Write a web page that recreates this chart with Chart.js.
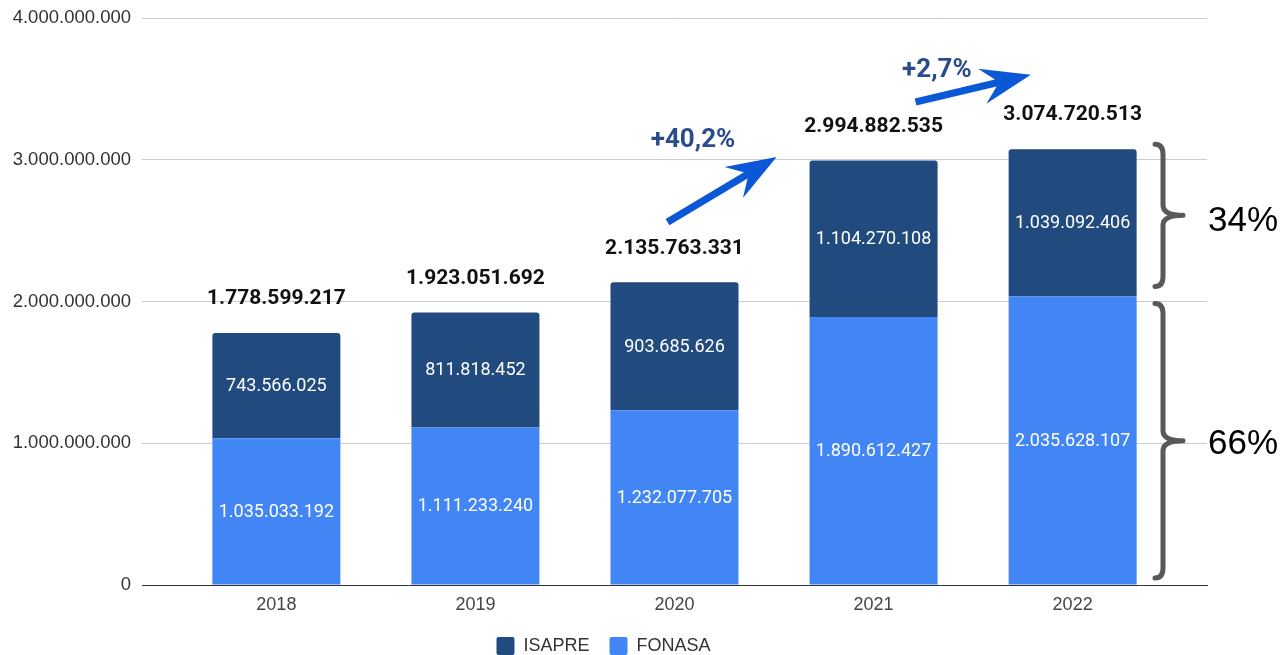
<!DOCTYPE html>
<html><head><meta charset="utf-8">
<script src="https://cdn.jsdelivr.net/npm/chart.js@4/dist/chart.umd.min.js"></script>
<style>html,body{margin:0;padding:0;background:#fff;}#wrap{width:1282px;height:655px;}</style>
</head><body><div id="wrap"><canvas id="c" width="1282" height="655"></canvas></div>
<script>
const years = ['2018', '2019', '2020', '2021', '2022'];
const isapre = [743566025, 811818452, 903685626, 1104270108, 1039092406];
const fonasa = [1035033192, 1111233240, 1232077705, 1890612427, 2035628107];
const totals = [1778599217, 1923051692, 2135763331, 2994882535, 3074720513];
const yTicks = [0, 1000000000, 2000000000, 3000000000, 4000000000];
const growthLabels = ['+40,2%', '+2,7%'];
const shareLabels = ['34%', '66%'];

const C_ISAPRE = '#214a7e';
const C_FONASA = '#4285f4';
const fmt = v => String(Math.round(v)).replace(/\B(?=(\d{3})+(?!\d))/g, '.');

function drawArrow(ctx, x1, y1, x2, y2, color) {
  const a = Math.atan2(y2 - y1, x2 - x1);
  const ux = Math.cos(a), uy = Math.sin(a), nx = -uy, ny = ux;
  const L = 50, W = 18, N = 36, S = 3.6;
  ctx.save();
  ctx.fillStyle = color;
  ctx.beginPath();
  const bx = x2 - ux * N, by = y2 - uy * N;
  ctx.moveTo(x1 + nx * S, y1 + ny * S);
  ctx.lineTo(bx + nx * S, by + ny * S);
  ctx.lineTo(x2 - ux * L + nx * W, y2 - uy * L + ny * W);
  ctx.lineTo(x2, y2);
  ctx.lineTo(x2 - ux * L - nx * W, y2 - uy * L - ny * W);
  ctx.lineTo(bx - nx * S, by - ny * S);
  ctx.lineTo(x1 - nx * S, y1 - ny * S);
  ctx.closePath();
  ctx.fill();
  ctx.restore();
}

function drawBrace(ctx, x0, x1, x2, top, bottom) {
  const mid = (top + bottom) / 2, r = 10;
  ctx.save();
  ctx.strokeStyle = '#595959';
  ctx.lineWidth = 5;
  ctx.lineCap = 'round';
  ctx.lineJoin = 'round';
  ctx.beginPath();
  ctx.moveTo(x0, top);
  ctx.quadraticCurveTo(x1, top, x1, top + r);
  ctx.lineTo(x1, mid - r);
  ctx.quadraticCurveTo(x1, mid, x2, mid);
  ctx.quadraticCurveTo(x1, mid, x1, mid + r);
  ctx.lineTo(x1, bottom - r);
  ctx.quadraticCurveTo(x1, bottom, x0, bottom);
  ctx.stroke();
  ctx.restore();
}

const annotations = {
  id: 'annotations',
  afterDatasetsDraw(chart) {
    const ctx = chart.ctx;
    const xs = chart.scales.x, ys = chart.scales.y;
    const area = chart.chartArea;
    ctx.save();
    ctx.textAlign = 'center';
    ctx.textBaseline = 'middle';
    chart.data.datasets.forEach((ds, di) => {
      const meta = chart.getDatasetMeta(di);
      ctx.font = '18px Roboto';
      ctx.fillStyle = '#ffffff';
      meta.data.forEach((bar, i) => {
        ctx.fillText(fmt(ds.data[i].y), bar.x, (bar.y + bar.base) / 2 + 1);
      });
    });
    ctx.font = 'bold 21px Roboto';
    ctx.fillStyle = '#111111';
    totals.forEach((t, i) => {
      ctx.fillText(fmt(t), xs.getPixelForValue(i), ys.getPixelForValue(t) - 34);
    });
    const arrowColor = '#0b58d6';
    drawArrow(ctx, xs.getPixelForValue(2 - 0.035), ys.getPixelForValue(2.56e9),
                   xs.getPixelForValue(3 - 0.487), ys.getPixelForValue(3.02e9), arrowColor);
    drawArrow(ctx, xs.getPixelForValue(3 + 0.211), ys.getPixelForValue(3.407e9),
                   xs.getPixelForValue(4 - 0.21), ys.getPixelForValue(3.6e9), arrowColor);
    ctx.font = 'bold 26px Roboto';
    ctx.fillStyle = '#2b4c8c';
    ctx.fillText(growthLabels[0], xs.getPixelForValue(2.093), ys.getPixelForValue(3.139e9));
    ctx.fillText(growthLabels[1], xs.getPixelForValue(3.318), ys.getPixelForValue(3.633e9));
    const yTop = ys.getPixelForValue(totals[4]);
    const yMid = ys.getPixelForValue(fonasa[4]);
    const yZero = ys.getPixelForValue(0);
    const r = area.right;
    drawBrace(ctx, r - 52, r - 44, r - 24, yTop - 5, yMid - 10);
    drawBrace(ctx, r - 52, r - 44, r - 24, yMid + 7, yZero - 7);
    ctx.font = '35px "Liberation Sans", Arial';
    ctx.fillStyle = '#000000';
    ctx.textAlign = 'left';
    ctx.fillText(shareLabels[0], r + 1, (yTop - 5 + yMid - 10) / 2 + 6);
    ctx.fillText(shareLabels[1], r + 1, (yMid + 7 + yZero - 7) / 2 + 4);
    ctx.restore();
  }
};

new Chart(document.getElementById('c'), {
  type: 'bar',
  data: {
    datasets: [
      { label: 'FONASA', data: fonasa.map((v, i) => ({ x: i, y: v })), backgroundColor: C_FONASA,
        borderRadius: 0, borderSkipped: false },
      { label: 'ISAPRE', data: isapre.map((v, i) => ({ x: i, y: v })), backgroundColor: C_ISAPRE,
        borderRadius: { topLeft: 3, topRight: 3, bottomLeft: 0, bottomRight: 0 }, borderSkipped: false }
    ]
  },
  options: {
    responsive: false,
    animation: false,
    devicePixelRatio: 1,
    barPercentage: 0.643,
    categoryPercentage: 1,
    layout: { padding: { left: 0, right: 75, top: 18, bottom: -10 } },
    plugins: {
      tooltip: { enabled: false },
      legend: {
        position: 'bottom',
        reverse: true,
        labels: {
          boxWidth: 18, boxHeight: 18, padding: 20,
          color: '#333333',
          useBorderRadius: true, borderRadius: 2,
          font: { family: '"Liberation Sans", Arial', size: 18 }
        }
      }
    },
    scales: {
      x: {
        type: 'linear',
        stacked: true,
        offset: false,
        bounds: 'ticks',
        min: -0.675, max: 4.675,
        afterDataLimits: s => { s.min = -0.675; s.max = 4.675; },
        afterBuildTicks: s => { s.ticks = years.map((_, i) => ({ value: i })); },
        afterFit: s => { s.height = 32; s.paddingLeft = 0; s.paddingRight = 0; },
        grid: { display: false, drawTicks: false },
        border: { display: true, color: '#333333', width: 1 },
        ticks: {
          padding: 9,
          color: '#444444',
          font: { family: '"Liberation Sans", Arial', size: 18 },
          callback: v => years[v]
        }
      },
      y: {
        stacked: true,
        min: 0, max: 4000000000,
        afterBuildTicks: s => { s.ticks = yTicks.map(v => ({ value: v })); },
        afterFit: s => { s.width = 142; s.paddingTop = 0; s.paddingBottom = 0; },
        grid: { color: '#cccccc', drawTicks: false },
        border: { display: false },
        ticks: {
          padding: 11,
          color: '#333333',
          font: { family: '"Liberation Sans", Arial', size: 18.5 },
          callback: v => fmt(v)
        }
      }
    }
  },
  plugins: [annotations]
});
</script>
</body></html>
